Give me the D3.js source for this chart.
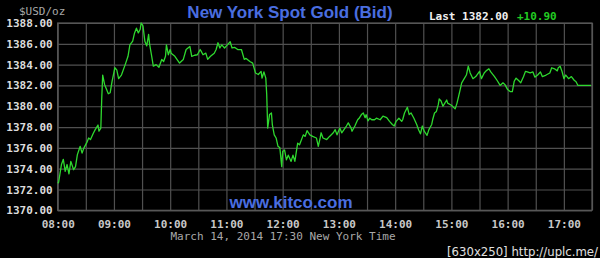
<!DOCTYPE html>
<html><head><meta charset="utf-8">
<script src="https://cdn.jsdelivr.net/npm/d3@7"></script>
<style>
html,body{margin:0;padding:0;background:#000;}
svg{display:block;}
</style></head>
<body>
<svg id="c" width="600" height="258"></svg>
<script>
const times = ["08:00","08:01","08:04","08:06","08:08","08:10","08:12","08:14","08:17","08:19","08:21","08:24","08:26","08:28","08:31","08:33","08:35","08:38","08:40","08:43","08:44","08:46","08:47","08:48","08:50","08:54","08:56","08:58","09:01","09:03","09:05","09:08","09:12","09:15","09:17","09:20","09:22","09:24","09:26","09:28","09:29","09:31","09:33","09:35","09:37","09:38","09:40","09:42","09:45","09:48","09:51","09:53","09:55","09:56","09:58","10:00","10:01","10:05","10:10","10:14","10:17","10:21","10:23","10:26","10:29","10:32","10:33","10:35","10:38","10:40","10:43","10:47","10:49","10:51","10:53","10:55","10:58","11:01","11:04","11:06","11:09","11:12","11:16","11:19","11:21","11:25","11:28","11:31","11:34","11:37","11:38","11:40","11:42","11:43","11:44","11:46","11:48","11:49","11:51","11:53","11:55","11:57","11:59","12:00","12:02","12:04","12:06","12:09","12:11","12:13","12:16","12:18","12:22","12:24","12:26","12:29","12:32","12:36","12:38","12:40","12:41","12:43","12:47","12:50","12:54","12:56","12:58","13:01","13:03","13:08","13:10","13:13","13:14","13:17","13:20","13:22","13:24","13:26","13:28","13:29","13:31","13:33","13:35","13:38","13:40","13:44","13:47","13:51","13:54","13:57","13:59","14:01","14:04","14:07","14:08","14:10","14:13","14:15","14:17","14:20","14:23","14:25","14:27","14:29","14:31","14:34","14:36","14:39","14:40","14:42","14:44","14:46","14:47","14:49","14:51","14:53","14:55","14:56","15:00","15:04","15:06","15:09","15:11","15:14","15:16","15:18","15:20","15:23","15:26","15:30","15:32","15:35","15:37","15:40","15:42","15:46","15:49","15:52","15:55","15:57","16:00","16:03","16:05","16:07","16:09","16:12","16:14","16:17","16:19","16:21","16:24","16:27","16:29","16:32","16:35","16:37","16:41","16:45","16:47","16:50","16:53","16:54","16:56","16:58","17:00","17:02","17:05","17:08","17:11","17:13","17:15","17:29"];
const prices = [1372.6,1372.7,1374.4,1374.9,1373.75,1374.4,1373.5,1374.7,1373.9,1374.2,1375.35,1376.15,1375.5,1376.0,1376.5,1376.95,1376.8,1377.4,1377.75,1378.2,1377.6,1377.9,1380.8,1383.0,1382.1,1381.2,1381.3,1382.4,1383.7,1383.5,1382.65,1383.0,1384.0,1384.8,1385.9,1386.25,1387.05,1387.5,1387.05,1387.4,1388.0,1387.7,1386.25,1385.8,1386.9,1386.0,1384.95,1383.85,1384.0,1383.75,1384.5,1384.3,1384.8,1385.9,1384.95,1385.45,1385.1,1384.8,1384.15,1384.5,1385.45,1385.75,1384.8,1384.9,1384.95,1385.45,1385.3,1384.95,1385.1,1384.5,1384.8,1385.1,1385.45,1386.1,1385.6,1385.9,1385.6,1385.9,1386.2,1385.6,1385.65,1385.45,1385.45,1384.5,1384.6,1384.3,1384.15,1383.2,1383.05,1383.35,1382.7,1383.3,1382.7,1381.1,1377.9,1379.2,1379.35,1378.2,1377.25,1376.95,1376.15,1376.0,1374.2,1375.65,1375.8,1374.85,1375.3,1374.7,1375.3,1374.7,1376.45,1376.3,1377.25,1377.1,1377.65,1377.25,1377.1,1376.95,1376.15,1376.95,1377.45,1376.95,1376.8,1377.1,1377.45,1377.75,1377.25,1377.9,1377.45,1378.1,1378.4,1377.9,1377.6,1378.1,1378.7,1378.9,1379.2,1379.35,1378.9,1379.2,1378.6,1378.85,1378.7,1378.7,1378.85,1378.7,1379.05,1378.9,1378.55,1378.25,1378.1,1378.55,1378.85,1378.55,1378.7,1379.35,1379.9,1379.2,1379.35,1378.85,1378.25,1377.75,1377.35,1378.1,1377.6,1377.2,1377.75,1378.25,1378.7,1379.35,1379.5,1380.15,1380.7,1380.5,1380.0,1380.3,1380.6,1380.3,1380.1,1379.75,1380.3,1381.45,1382.25,1382.7,1383.0,1383.85,1383.2,1382.65,1382.85,1383.35,1382.65,1383.2,1383.4,1383.6,1383.3,1382.85,1382.45,1382.0,1382.25,1382.1,1381.6,1381.4,1381.4,1382.4,1382.7,1382.45,1382.25,1382.85,1383.35,1383.3,1383.2,1383.3,1382.8,1383.0,1383.3,1382.85,1383.0,1383.2,1383.7,1383.6,1383.4,1383.7,1383.85,1383.35,1382.65,1383.0,1382.65,1382.85,1382.5,1382.35,1382.0,1382.0];
const yTicks = [1370,1372,1374,1376,1378,1380,1382,1384,1386,1388];
const xTicks = ["08:00","08:30","09:00","09:30","10:00","10:30","11:00","11:30","12:00","12:30","13:00","13:30","14:00","14:30","15:00","15:30","16:00","16:30","17:00","17:30"];
const titleText = "New York Spot Gold (Bid)";
const unitText = "$USD/oz";
const lastLabel = "Last 1382.00";
const changeLabel = "+10.90";
const footerText = "March 14, 2014 17:30 New York Time";
const watermark = "www.kitco.com";
const credit = "[630x250] http://uplc.me/";

const parse = d3.timeParse("%H:%M");
const data = times.map((t,i)=>({t:parse(t), v:prices[i]}));

const L=57.7, R=592, T=23, B=210.3;
const svg = d3.select("#c");
svg.append("rect").attr("width",600).attr("height",258).attr("fill","#000");

const x = d3.scaleTime().domain([parse("08:00"), parse("17:30")]).range([L,R]);
const y = d3.scaleLinear().domain([1370,1388]).range([B,T]);

const mono = "'DejaVu Sans Mono', 'Liberation Mono', monospace";

// Y axis with grid
const ya = svg.append("g").attr("transform",`translate(${L},0)`)
  .call(d3.axisLeft(y).tickValues(yTicks).tickFormat(d3.format(".2f")).tickSize(-(R-L)).tickPadding(5));
ya.select(".domain").remove();
ya.selectAll("line").attr("stroke","#505050").attr("stroke-width",1.2);
ya.selectAll("text").attr("fill","#dcdcdc").attr("font-family",mono).attr("font-size",11).attr("font-weight","bold");

// X axis with grid
const xa = svg.append("g").attr("transform",`translate(0,${B})`)
  .call(d3.axisBottom(x).tickValues(xTicks.map(parse))
    .tickFormat(d=>d.getMinutes()===0 ? d3.timeFormat("%H:%M")(d) : "")
    .tickSize(-(B-T)).tickPadding(9.5));
xa.select(".domain").remove();
xa.selectAll("line").attr("stroke","#505050").attr("stroke-width",1.2);
xa.selectAll("text").attr("fill","#c8c8c8").attr("font-family",mono).attr("font-size",11).attr("font-weight","bold");

// border
svg.append("rect").attr("x",L).attr("y",T).attr("width",R-L).attr("height",B-T)
  .attr("fill","none").attr("stroke","#5a5a5a").attr("stroke-width",1.2);

// watermark
svg.append("text").attr("x",291).attr("y",208).attr("text-anchor","middle")
  .attr("font-family","'Liberation Sans', Arial, sans-serif").attr("font-weight","bold")
  .attr("font-size",17).attr("fill","#4a6ee0").text(watermark);

// line
svg.append("path").datum(data)
  .attr("d", d3.line().x(d=>x(d.t)).y(d=>y(d.v)))
  .attr("fill","none").attr("stroke","#2fd82f").attr("stroke-width",1.3).attr("stroke-linejoin","round");

// title
svg.append("text").attr("x",290).attr("y",18).attr("text-anchor","middle")
  .attr("font-family","'Liberation Sans', Arial, sans-serif").attr("font-weight","bold")
  .attr("font-size",17).attr("fill","#4a6ee0").text(titleText);

svg.append("text").attr("x",19).attr("y",14.5)
  .attr("font-family",mono).attr("font-size",11).attr("fill","#a8a8a8").text(unitText);

svg.append("text").attr("x",429).attr("y",19.5)
  .attr("font-family",mono).attr("font-size",11).attr("font-weight","bold").attr("fill","#f0f0f0").text(lastLabel);
svg.append("text").attr("x",517).attr("y",19.5)
  .attr("font-family",mono).attr("font-size",11).attr("font-weight","bold").attr("fill","#22cc22").text(changeLabel);

svg.append("text").attr("x",283).attr("y",239.5).attr("text-anchor","middle")
  .attr("font-family",mono).attr("font-size",11).attr("fill","#a8a8a8").text(footerText);

svg.append("text").attr("x",598).attr("y",256).attr("text-anchor","end")
  .attr("font-family","'Liberation Sans Narrow', 'DejaVu Sans Condensed', sans-serif")
  .attr("font-stretch","condensed")
  .attr("font-size",13).attr("fill","#e0e0e0").text(credit);
</script>
</body></html>
